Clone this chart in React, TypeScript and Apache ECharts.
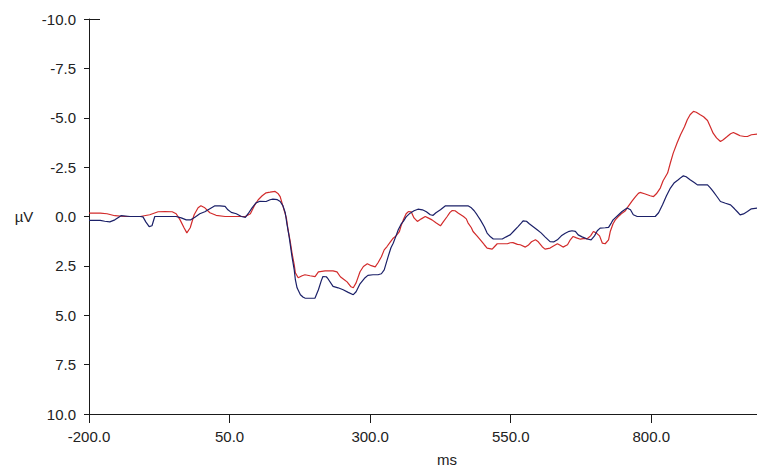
import React, { useEffect, useRef } from "react";
import * as echarts from "echarts";

const xTicks = [-200, 50, 300, 550, 800];

const redMs = [-200, -180, -168, -154, -136, -109, -92, -77, -65, -52, -45, -38, -31, -26, -20, -13, -6, -1, 6, 15, 26, 42, 60, 78, 87, 95, 101, 108, 115, 122, 131, 136, 140, 145, 151, 154, 158, 161, 165, 167, 172, 179, 184, 193, 202, 208, 220, 234, 241, 247, 254, 259, 266, 270, 275, 282, 288, 295, 302, 309, 314, 320, 325, 330, 336, 341, 346, 352, 355, 359, 364, 368, 373, 378, 384, 391, 398, 403, 410, 417, 425, 430, 437, 442, 446, 451, 457, 466, 471, 474, 480, 483, 490, 496, 503, 508, 517, 521, 526, 535, 544, 549, 554, 562, 567, 576, 581, 587, 594, 599, 606, 611, 620, 626, 633, 638, 643, 651, 656, 661, 667, 674, 681, 686, 692, 697, 702, 708, 713, 718, 724, 727, 732, 736, 743, 748, 754, 759, 766, 772, 777, 780, 788, 793, 798, 804, 809, 816, 821, 829, 834, 839, 846, 852, 859, 864, 869, 875, 880, 887, 893, 900, 905, 910, 916, 923, 928, 935, 941, 946, 953, 958, 966, 971, 978, 989];
const redUv = [-0.17, -0.17, -0.14, -0.04, 0, 0, -0.09, -0.24, -0.25, -0.24, -0.14, 0.17, 0.57, 0.83, 0.57, -0.09, -0.44, -0.54, -0.44, -0.19, -0.06, 0, 0, 0, -0.14, -0.59, -0.85, -1.05, -1.2, -1.23, -1.27, -1.17, -1.01, -0.51, 0.07, 0.67, 1.28, 1.84, 2.45, 2.85, 3.1, 3.0, 2.95, 3.0, 3.04, 2.8, 2.75, 2.75, 2.8, 3.05, 3.2, 3.31, 3.56, 3.61, 3.36, 2.8, 2.53, 2.39, 2.49, 2.55, 2.34, 2.04, 1.69, 1.52, 1.28, 1.1, 0.98, 0.77, 0.47, 0.17, -0.14, -0.25, -0.24, 0.07, 0.25, 0.12, 0, 0.07, 0.17, 0.32, 0.47, 0.27, 0, -0.21, -0.3, -0.29, -0.17, 0, 0.12, 0.32, 0.57, 0.76, 0.98, 1.18, 1.43, 1.6, 1.65, 1.53, 1.38, 1.38, 1.38, 1.33, 1.32, 1.41, 1.43, 1.55, 1.46, 1.28, 1.18, 1.28, 1.53, 1.65, 1.6, 1.49, 1.38, 1.46, 1.55, 1.43, 1.18, 1.01, 1.08, 1.15, 1.11, 1.13, 0.98, 0.76, 0.83, 0.98, 1.35, 1.38, 1.18, 0.76, 0.37, 0.17, -0.04, -0.17, -0.29, -0.51, -0.79, -1.01, -1.17, -1.22, -1.15, -1.1, -1.05, -1.01, -1.15, -1.44, -1.81, -2.2, -2.72, -3.21, -3.73, -4.14, -4.54, -4.9, -5.15, -5.32, -5.28, -5.15, -5.05, -4.86, -4.54, -4.22, -3.98, -3.8, -3.89, -4.05, -4.19, -4.25, -4.16, -4.09, -4.05, -4.05, -4.14, -4.17];

const blueMs = [-200, -180, -172, -163, -154, -143, -127, -109, -104, -99, -93, -88, -83, -65, -45, -36, -27, -19, -11, -3, 6, 15, 24, 33, 42, 47, 53, 62, 71, 78, 83, 90, 97, 104, 115, 122, 127, 135, 140, 145, 149, 152, 156, 161, 165, 167, 170, 176, 181, 184, 193, 202, 208, 213, 216, 222, 225, 234, 243, 252, 261, 270, 275, 282, 291, 296, 305, 314, 320, 325, 332, 337, 341, 346, 350, 355, 359, 364, 371, 378, 385, 393, 400, 407, 412, 417, 425, 434, 442, 451, 464, 474, 480, 485, 490, 496, 503, 508, 514, 519, 526, 535, 542, 549, 556, 563, 569, 572, 578, 583, 590, 597, 604, 611, 620, 627, 633, 640, 647, 654, 659, 665, 670, 677, 686, 693, 699, 704, 709, 718, 724, 729, 732, 740, 748, 757, 763, 768, 775, 789, 798, 807, 813, 820, 827, 834, 841, 848, 853, 857, 862, 869, 877, 882, 891, 900, 905, 910, 917, 923, 932, 941, 948, 953, 958, 964, 971, 978, 989];
const blueUv = [0.2, 0.2, 0.24, 0.27, 0.17, -0.04, 0, 0, 0.02, 0.27, 0.51, 0.47, 0, 0, 0, 0.07, 0.17, 0.17, 0.02, -0.14, -0.24, -0.39, -0.54, -0.54, -0.51, -0.34, -0.21, -0.14, 0, 0.04, -0.14, -0.44, -0.69, -0.77, -0.76, -0.85, -0.88, -0.85, -0.76, -0.54, -0.19, 0.37, 1.03, 2.03, 2.7, 3.2, 3.61, 3.96, 4.09, 4.13, 4.14, 4.13, 3.71, 3.26, 3.04, 3.05, 3.15, 3.54, 3.61, 3.71, 3.84, 3.96, 3.81, 3.41, 3.1, 2.98, 2.95, 2.95, 2.9, 2.7, 2.03, 1.58, 1.35, 0.98, 0.67, 0.39, 0.25, 0.02, -0.17, -0.29, -0.37, -0.34, -0.24, -0.09, -0.06, -0.19, -0.34, -0.54, -0.54, -0.54, -0.54, -0.54, -0.44, -0.29, -0.09, 0.17, 0.52, 0.84, 1.03, 1.14, 1.14, 1.14, 1.03, 0.93, 0.72, 0.51, 0.32, 0.22, 0.24, 0.37, 0.52, 0.67, 0.83, 1.03, 1.27, 1.28, 1.18, 0.98, 0.85, 0.75, 0.72, 0.75, 0.93, 1.03, 1.14, 1.18, 0.98, 0.72, 0.59, 0.57, 0.55, 0.32, 0.17, -0.04, -0.25, -0.43, -0.34, -0.09, 0, 0, 0, 0, -0.19, -0.59, -1.05, -1.44, -1.71, -1.86, -1.98, -2.06, -2.01, -1.86, -1.71, -1.6, -1.6, -1.6, -1.45, -1.27, -1.0, -0.76, -0.67, -0.59, -0.39, -0.24, -0.08, -0.13, -0.25, -0.39, -0.43];

const zip = (xs: number[], ys: number[]) => xs.map((x, i) => [x, ys[i]]);

const FONT = "'Liberation Sans', Arial, sans-serif";
const AXIS_COLOR = "#1a1a1a";
const TEXT_COLOR = "#222";

export default function App() {
  const ref = useRef<HTMLDivElement>(null);
  useEffect(() => {
    if (!ref.current) return;
    const chart = echarts.init(ref.current, undefined, { renderer: "svg" });
    chart.setOption({
      animation: false,
      backgroundColor: "#ffffff",
      grid: { left: 89, right: 0, top: 19, bottom: 52, containLabel: false },
      xAxis: {
        type: "value",
        min: -200,
        max: 988,
        axisLine: { show: true, onZero: false, lineStyle: { color: AXIS_COLOR, width: 1 } },
        axisTick: { show: true, length: 9, customValues: xTicks, lineStyle: { color: AXIS_COLOR, width: 1 } },
        axisLabel: {
          customValues: xTicks,
          formatter: (v: number) => v.toFixed(1),
          margin: 15,
          fontSize: 15,
          fontFamily: FONT,
          color: TEXT_COLOR,
        },
        splitLine: { show: false },
      },
      yAxis: {
        type: "value",
        inverse: true,
        min: -10,
        max: 10,
        interval: 2.5,
        axisLine: { show: true, onZero: false, lineStyle: { color: AXIS_COLOR, width: 1 } },
        axisTick: { show: true, length: 5, lineStyle: { color: AXIS_COLOR, width: 1 } },
        axisLabel: {
          formatter: (v: number) => v.toFixed(1),
          margin: 13,
          fontSize: 15,
          fontFamily: FONT,
          color: TEXT_COLOR,
        },
        splitLine: { show: false },
      },
      graphic: [
        { type: "line", shape: { x1: 89, y1: 19.5, x2: 100, y2: 19.5 }, style: { stroke: AXIS_COLOR, lineWidth: 1 } },
        { type: "text", x: 24, y: 216, style: { text: "µV", font: `15px ${FONT}`, fill: TEXT_COLOR, textAlign: "center", textVerticalAlign: "middle" } },
        { type: "text", x: 447, y: 459, style: { text: "ms", font: `15px ${FONT}`, fill: TEXT_COLOR, textAlign: "center", textVerticalAlign: "middle" } },
      ],
      series: [
        {
          name: "red",
          type: "line",
          data: zip(redMs, redUv),
          showSymbol: false,
          symbol: "none",
          lineStyle: { color: "#d22b2b", width: 1.2 },
          itemStyle: { color: "#d22b2b" },
          clip: true,
        },
        {
          name: "blue",
          type: "line",
          data: zip(blueMs, blueUv),
          showSymbol: false,
          symbol: "none",
          lineStyle: { color: "#1b2068", width: 1.2 },
          itemStyle: { color: "#1b2068" },
          clip: true,
        },
      ],
    });
    return () => chart.dispose();
  }, []);
  return <div ref={ref} style={{ position: "absolute", left: 0, top: 0, width: 757, height: 466 }} />;
}
